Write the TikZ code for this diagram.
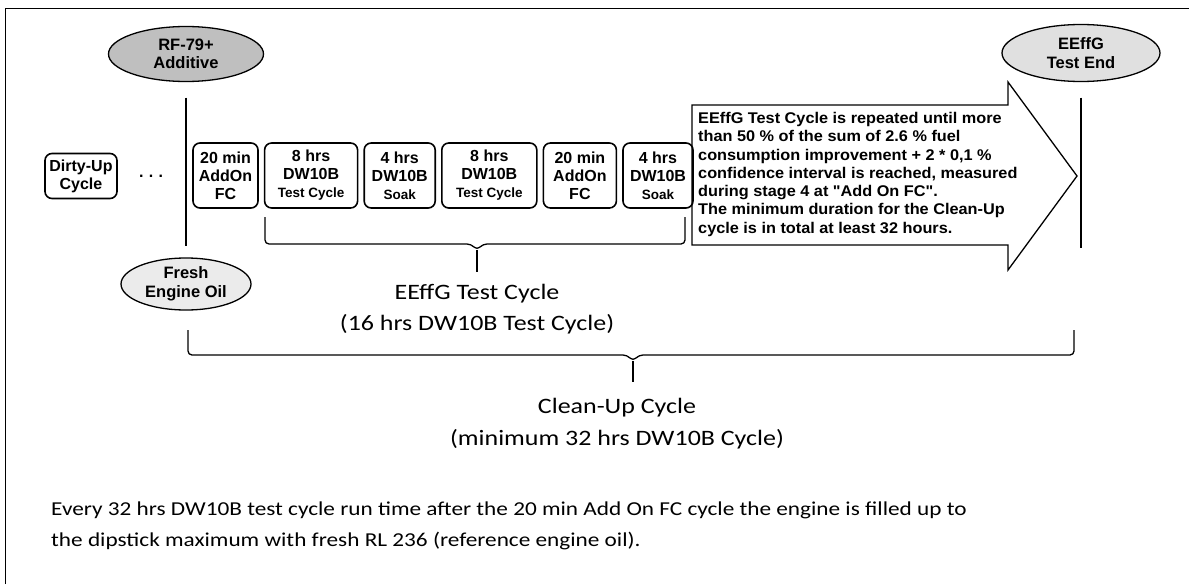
\documentclass[tikz,border=0pt]{standalone}
\usepackage{fontspec}
\setmainfont{Carlito}
\setsansfont{Liberation Sans}
\newfontfamily\labelfont[FakeStretch=1.18]{Carlito}
\newfontfamily\notefont[FakeStretch=1.05]{Liberation Sans}
\usetikzlibrary{positioning, shapes.geometric}
\newcommand{\minor}[1]{{\fontsize{13.5}{18}\selectfont #1}}

\begin{document}
\begin{tikzpicture}[
    x = 1pt, y = -1pt, align = center,
    stage/.style = {
      rectangle, rounded corners = 7pt, draw, line width = 1.6pt,
      inner sep = 0pt, minimum height = 65pt,
      font = \sffamily\bfseries\fontsize{16}{18}\selectfont
    },
    dirty/.style = {
      stage, minimum width = 72pt, minimum height = 45pt
    },
    event/.style = {
      ellipse, draw, line width = 1.3pt, inner sep = 0pt,
      minimum width = 155pt, minimum height = 55pt,
      font = \sffamily\bfseries\fontsize{16.5}{18.5}\selectfont
    },
    bar/.style = {
      line width = 1.6pt
    },
    brace/.style = {
      line width = 1.3pt, rounded corners = 4pt
    },
    caption/.style = {
      inner sep = 0pt, font = \labelfont\fontsize{22}{31}\selectfont
    },
    ]

    \useasboundingbox  (0,0)  rectangle  (1189,584);

    % frame
    \draw  [line width = 1pt]  (5,584)  --  (5,8)  --  (1189,8);

    % draw events
    \node  [event, fill = black!25]  (rf)  at  (186,54)  {RF-79+\\Additive};
    \node  [event, fill = black!8, minimum width = 130pt, minimum height = 52pt]  (fresh)  at  (186,284)  {Fresh\\Engine Oil};
    \node  [event, fill = black!12, minimum width = 158pt, minimum height = 57pt]  (end)  at  (1081,53)  {EEffG\\Test End};
    \coordinate  (endfoot)  at  (1081,248);

    \draw  [bar, shorten <= 15.5pt, shorten >= 11pt]  (rf)  --  (fresh);
    \draw  [bar, shorten <= 15.5pt]  (end)  --  (endfoot);

    % draw stages
    \node  [dirty]  (dirty)  at  (81,176)  {Dirty-Up\\Cycle};
    \node  [font = \sffamily\bfseries\fontsize{16}{18}\selectfont]  (dots)  at  (151,176)  {.\,\,.\,\,.};

    \node  [stage, minimum width = 65pt]  (s1)  at  (225.5,175.5)  {20 min\\AddOn\\FC};
    \foreach \w/\txt [count = \i from 2, remember = \i as \lasti (initially 1)] in
      {93/{8 hrs\\DW10B\\\minor{Test Cycle}}, 71/{4 hrs\\DW10B\\\minor{Soak}},
       95/{8 hrs\\DW10B\\\minor{Test Cycle}}, 73/{20 min\\AddOn\\FC},
       70/{4 hrs\\DW10B\\\minor{Soak}}}
    \node  [stage, minimum width = \w pt]  (s\i)  [right = 5pt of s\lasti]  {\txt};

    % repeat arrow
    \draw  [line width = 1.3pt, line join = miter]  (692,105)  --  (1008,105)  --  (1008,82)  --  (1077,176)
      --  (1008,270)  --  (1008,245)  --  (692,245)  --  cycle;
    \node  [anchor = north west, inner sep = 0pt, align = left, font = \notefont\bfseries\fontsize{15.5}{18.3}\selectfont]  (repeat)  at  (698,112)
      {EEffG Test Cycle is repeated until more\\
       than 50 \% of the sum of 2.6 \% fuel\\
       consumption improvement + 2 * 0,1 \%\\
       confidence interval is reached, measured\\
       during stage 4 at "Add On FC".\\
       The minimum duration for the Clean-Up\\
       cycle is in total at least 32 hours.};

    % draw braces
    \coordinate  (tctip)  at  (477,272);
    \draw  [brace]  (265,217)  --  (265,244)  --  (471,244)  --  (477,250)  --  (483,244)  --  (685,244)  --  (685,217);
    \draw  [brace]  (477,250)  --  (tctip);
    \node  [caption]  (tclabel)  [below = 12pt of tctip]  {EEffG Test Cycle\\(16 hrs DW10B Test Cycle)};

    \coordinate  (cutip)  at  (633,382);
    \draw  [brace]  (188,330)  --  (188,355)  --  (627,355)  --  (633,361)  --  (639,355)  --  (1074,355)  --  (1074,330);
    \draw  [brace]  (633,361)  --  (cutip);
    \node  [caption, font = \labelfont\fontsize{22}{32}\selectfont, xshift = -16pt]  (culabel)  [below = 16.5pt of cutip]  {Clean-Up Cycle\\(minimum 32 hrs DW10B Cycle)};

    % note
    \node  [anchor = north west, inner sep = 0pt, align = left, font = \labelfont\fontsize{19.7}{31}\selectfont]  (note)  at  (51,502)
      {Every 32 hrs DW10B test cycle run time after the 20 min Add On FC cycle the engine is filled up to\\
       the dipstick maximum with fresh RL 236 (reference engine oil).};
\end{tikzpicture}
\end{document}
